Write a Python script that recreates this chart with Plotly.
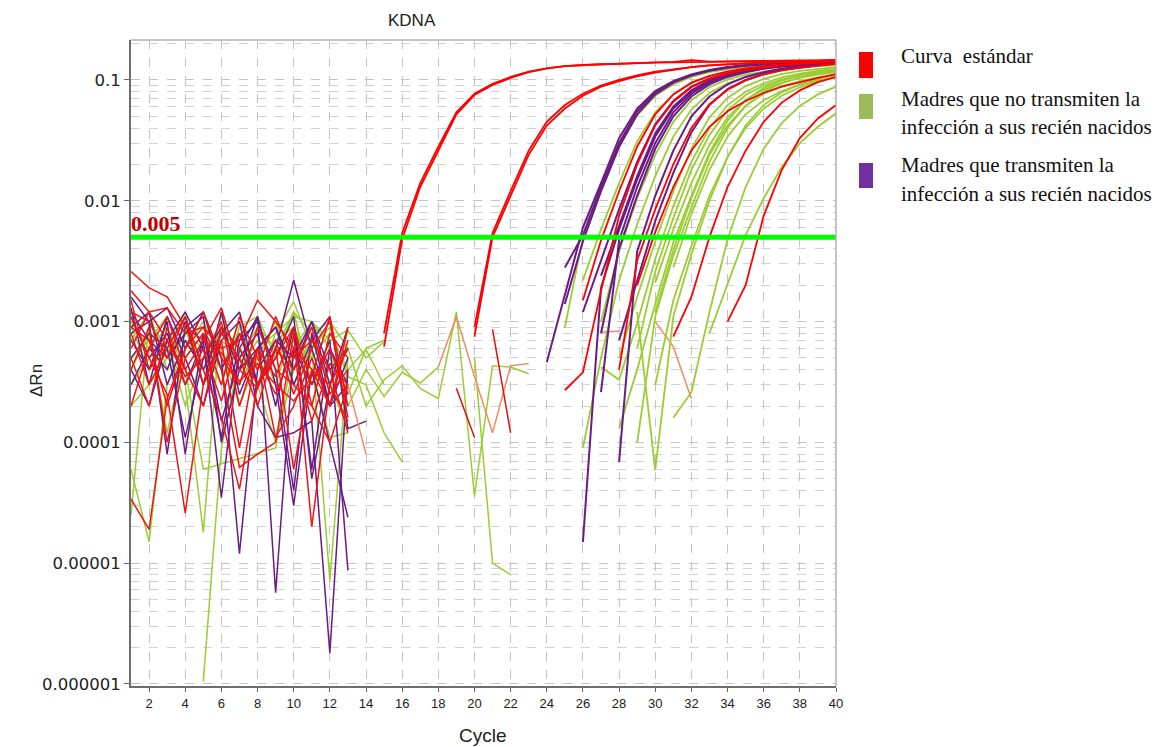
import plotly.graph_objects as go

_ = None

# ---------------- data ----------------
CYCLES = list(range(1, 41))
TITLE = "KDNA"
THRESHOLD = 0.005
X_TICKS = list(range(2, 41, 2))
Y_TICKS = [1e-6, 1e-5, 1e-4, 1e-3, 1e-2, 1e-1]
Y_TICK_TEXT = ["0.000001", "0.00001", "0.0001", "0.001", "0.01", "0.1"]
LEGEND_LABELS = [
    ["Curva  estándar"],
    ["Madres que no transmiten la", "infección a sus recién nacidos"],
    ["Madres que transmiten la", "infección a sus recién nacidos"],
]

# baseline noise, each list starts at cycle 1
STANDARD_NOISE = [
    [2.6e-3, 1.9e-3, 1.6e-3, 9.0e-4, 7.0e-4, 5.5e-4, 3.2e-4, 4.5e-4, 3.0e-4, 2.2e-4, 3.5e-4, 1.1e-3, 2.0e-4],
    [1.8e-3, 1.2e-3, 1.3e-3, 8.0e-4, 9.0e-4, 6.0e-4, 7.0e-4, 1.5e-3, 1.0e-3, 6.0e-4, 4.0e-4, 3.0e-4, 1.5e-4],
    [3.4e-5, 1.9e-5, 2.3e-4, 6.0e-4, 9.0e-4, 4.0e-4, 6.2e-5, 8.0e-5, 1.0e-4, 8.0e-4, 2.0e-5, 3.0e-4, 6.0e-4],
    [1.1e-3, 5.0e-4, 2.5e-4, 2.6e-5, 3.0e-4, 8.0e-4, 5.0e-4, 2.0e-4, 6.0e-4, 4.0e-4, 9.0e-4, 2.5e-4, 4.0e-4],
    [6.0e-4, 1.2e-3, 7.0e-4, 4.0e-4, 2.0e-4, 9.0e-4, 6.0e-4, 3.0e-4, 7.0e-4, 2.5e-4, 6.0e-4, 1.0e-3, 1.6e-4],
    [4.0e-4, 9.0e-4, 1.0e-4, 5.0e-4, 8.0e-4, 3.0e-4, 1.1e-3, 5.0e-4, 2.5e-4, 6.0e-4, 1.5e-4, 4.5e-4, 3.0e-4],
    [8.0e-4, 3.0e-4, 6.0e-4, 1.1e-3, 4.0e-4, 1.6e-4, 4.1e-5, 3.0e-4, 5.0e-4, 9.0e-4, 3.0e-4, 6.0e-4, 2.5e-4],
    [1.5e-3, 4.0e-4, 7.0e-4, 3.5e-4, 5.0e-4, 1.0e-3, 2.0e-4, 6.0e-4, 1.1e-4, 2.0e-4, 5.0e-4, 2.0e-4, 7.0e-4],
    [9.0e-4, 7.0e-4, 2.0e-4, 6.0e-4, 1.2e-3, 5.0e-4, 3.0e-4, 9.0e-4, 4.0e-4, 3.0e-4, 2.0e-4, 1.0e-4, 3.0e-4],
    [5.0e-4, 2.0e-4, 9.0e-4, 3.0e-4, 6.0e-4, 2.2e-4, 8.0e-4, 4.0e-4, 1.1e-3, 5.0e-4, 7.0e-4, 4.0e-4, 1.2e-4],
    [1.2e-3, 1.0e-3, 5.0e-4, 1.1e-3, 3.0e-4, 7.0e-4, 9.0e-5, 6.0e-4, 3.5e-4, 9.0e-4, 2.0e-4, 8.0e-4, 5.0e-4],
    [2.0e-4, 6.0e-4, 1.1e-3, 4.0e-4, 7.0e-4, 1.3e-3, 4.0e-4, 2.8e-4, 6.0e-4, 6.0e-5, 4.0e-4, 2.0e-4, 9.0e-4],
]
TRANSMIT_NOISE = [
    [1.6e-3, 1.0e-3, 1.3e-3, 6.0e-4, 1.2e-3, 4.0e-4, 8.0e-4, 3.0e-4, 6.0e-4, 2.2e-3, 6.0e-4, 2.0e-4, 3.0e-4],
    [1.1e-3, 5.0e-4, 8.0e-4, 3.0e-4, 7.0e-4, 3.5e-5, 6.0e-4, 1.1e-3, 3.0e-4, 3.0e-5, 4.0e-4, 1.0e-4, 2.4e-5],
    [8.0e-4, 1.0e-3, 8.0e-5, 9.0e-4, 1.2e-3, 5.0e-4, 1.2e-5, 4.0e-4, 7.0e-4, 5.0e-4, 1.0e-3, 4.0e-4, 6.0e-4],
    [5.0e-4, 8.0e-4, 6.0e-4, 1.1e-4, 5.0e-4, 9.0e-4, 4.0e-4, 1.1e-3, 5.7e-6, 6.0e-4, 3.0e-4, 7.0e-4, 8.7e-6],
    [1.3e-3, 3.0e-4, 1.1e-3, 5.0e-4, 2.0e-4, 7.0e-4, 1.0e-3, 2.0e-4, 1.1e-4, 1.2e-4, 1.5e-4, 1.8e-6, 4.0e-4],
    [3.0e-4, 6.0e-4, 4.0e-4, 1.0e-3, 3.0e-4, 1.2e-3, 2.5e-4, 6.0e-4, 9.0e-4, 3.0e-4, 7.0e-4, 1.1e-3, 1.3e-4, 1.5e-4],
    [7.0e-4, 4.0e-4, 1.0e-3, 8.0e-5, 8.0e-4, 1.5e-4, 5.0e-4, 8.0e-4, 2.0e-4, 9.0e-4, 6.0e-5, 6.0e-4, 3.0e-4],
    [9.0e-4, 1.2e-3, 3.0e-4, 7.0e-4, 4.0e-4, 8.0e-4, 1.2e-3, 3.0e-4, 5.0e-4, 1.1e-3, 5.0e-5, 3.0e-4, 9.0e-4],
    [4.0e-4, 2.0e-4, 7.0e-4, 1.2e-3, 6.0e-4, 1.1e-4, 7.0e-4, 1.0e-3, 4.0e-4, 4.0e-5, 8.0e-4, 2.0e-4, 5.0e-4],
    [1.2e-3, 7.0e-4, 5.0e-4, 8.0e-4, 1.1e-3, 1.0e-4, 4.0e-4, 6.0e-4, 9.0e-4, 4.0e-4, 1.0e-3, 3.0e-4, 6.0e-4],
]
NONTRANSMIT_NOISE = [
    [6.0e-5, 1.5e-5, 3.0e-4, 7.0e-4, 4.0e-4, 9.0e-4, 6.0e-4, 3.0e-4, 8.0e-4, 1.46e-3, 6.0e-4, 7.2e-6, 5.0e-4],
    [2.5e-5, 1.0e-3, 6.0e-4, 3.0e-4, 1.8e-5, 1.2e-3, 4.0e-4, 7.0e-4, 3.0e-4, 9.0e-4, 5.0e-4, 2.0e-4, 8.5e-4, 5.0e-4, 6.8e-4],
    [_, _, _, _, 1.05e-6, 9.0e-5, 5.0e-4, 3.0e-4, 1.0e-4, 4.0e-4, 7.0e-4, 3.0e-4, 1.3e-4],
    [1.0e-3, 6.0e-4, 9.0e-4, 4.0e-4, 6.0e-5, 6.6e-5, 7.3e-5, 8.1e-5, 9.0e-5, 6.0e-4, 1.0e-3, 6.0e-4, 2.0e-4, 4.0e-4, 2.4e-4, 3.8e-4, 3.1e-4, 4.2e-4],
    [7.0e-4, 1.2e-3, 4.0e-4, 8.0e-4, 6.0e-4, 3.0e-4, 9.0e-4, 1.1e-3, 5.0e-4, 1.2e-3, 8.0e-4, 1.0e-3, 6.0e-4, 2.0e-4, 3.3e-4, 4.3e-4, 2.8e-4, 2.3e-4, 1.2e-3, 3.6e-5, 4.3e-4, 4.2e-4, 3.7e-4],
    [4.0e-4, 8.0e-4, 1.2e-4, 6.0e-4, 1.0e-3, 5.0e-4, 3.0e-4, 6.0e-4, 8.0e-4, 1.1e-3, 1.0e-3, 7.0e-4, 8.5e-4],
    [3.0e-4, 5.0e-4, 7.0e-4, 2.0e-4, 5.0e-4, 8.0e-4, 6.0e-4, 4.0e-4, 7.0e-4, 9.0e-4, 4.0e-4, 1.1e-4, 1.2e-4, _, 1.2e-4, 6.9e-5],
    [9.0e-4, 4.0e-4, 6.0e-4, 1.2e-3, 3.0e-4, 7.0e-4, 5.0e-4, 9.0e-4, 6.0e-4, 1.2e-3, 3.0e-4, 5.0e-4, 2.5e-4, 6.0e-4, 7.0e-4],
    [5.0e-4, 7.0e-4, 1.1e-3, 5.0e-4, 8.0e-4, 4.0e-4, 1.0e-3, 3.0e-4, 5.0e-4, 7.0e-4, 5.0e-4, 8.0e-4, 4.0e-4, 5.9e-4, 3.0e-4],
    [2.0e-4, 3.0e-4, 5.0e-4, 9.0e-4, 3.0e-4, 6.0e-4, 2.0e-4, 5.0e-4, 1.0e-3, 3.0e-4, 6.0e-4, 9.0e-4, 3.5e-4, 3.0e-4, 1.2e-4],
]

# amplification segments: (first cycle, values)
STANDARD_CURVES = [
    (15, [6.2e-4, 4.8e-3, 1.3e-2, 2.6e-2, 5.2e-2, 7.5e-2, 9.1e-2, 0.104, 0.116, 0.125, 0.130, 0.133, 0.135,
          0.137, 0.139, 0.140, 0.141, 0.146, 0.142, 0.143, 0.143, 0.144, 0.144, 0.145, 0.145, 0.146]),
    (15, [8.0e-4, 5.4e-3, 1.4e-2, 2.8e-2, 5.4e-2, 7.7e-2, 9.3e-2, 0.106, 0.117, 0.125, 0.130, 0.133, 0.135,
          0.136, 0.138, 0.139, 0.140, 0.141, 0.141, 0.142, 0.143, 0.143, 0.144, 0.144, 0.145, 0.145]),
    (20, [7.5e-4, 5.0e-3, 1.1e-2, 2.4e-2, 4.2e-2, 5.8e-2, 7.4e-2, 8.8e-2, 9.8e-2, 0.107, 0.115, 0.122, 0.128,
          0.132, 0.135, 0.137, 0.139, 0.141, 0.142, 0.143, 0.145]),
    (20, [9.0e-4, 5.4e-3, 1.2e-2, 2.6e-2, 4.5e-2, 6.2e-2, 7.7e-2, 9.0e-2, 0.100, 0.109, 0.117, 0.123, 0.128,
          0.132, 0.135, 0.137, 0.139, 0.140, 0.141, 0.142, 0.143]),
    (26, [1.5e-3, 4.7e-3, 1.2e-2, 2.8e-2, 5.2e-2, 7.6e-2, 9.5e-2, 0.108, 0.118, 0.125, 0.130, 0.134, 0.137, 0.140, 0.143]),
    (25, [2.7e-4, 3.8e-4, 1.8e-3, 7.5e-3, 2.0e-2, 4.2e-2, 6.6e-2, 8.7e-2, 0.102, 0.113, 0.121, 0.127, 0.132, 0.136, 0.139, 0.142]),
    (28, [4.0e-4, 3.2e-3, 8.5e-3, 2.0e-2, 4.0e-2, 6.3e-2, 8.3e-2, 9.9e-2, 0.111, 0.120, 0.127, 0.132, 0.136]),
    (29, [2.0e-3, 5.5e-3, 1.3e-2, 2.6e-2, 4.1e-2, 5.5e-2, 6.7e-2, 7.8e-2, 8.8e-2, 9.6e-2, 0.104, 0.112]),
    (31, [7.5e-4, 1.6e-3, 5.0e-3, 1.3e-2, 2.6e-2, 4.5e-2, 6.5e-2, 8.2e-2, 9.6e-2, 0.106]),
    (34, [1.0e-3, 2.0e-3, 7.5e-3, 1.8e-2, 3.3e-2, 4.8e-2, 6.2e-2]),
]
STANDARD_FRAGMENTS = [
    (19, [2.8e-4, 1.1e-4]),
    (21, [8.6e-4, 1.2e-4]),
]
SALMON_FRAGMENTS = [
    (18, [4.2e-4, 1.1e-3, 3.5e-4, 1.2e-4, 4.3e-4, 4.5e-4]),
    (30, [1.0e-3, 6.2e-4, 2.3e-4]),
    (27, [8.2e-4, 8.3e-4]),
    (13, [3.0e-4, 8.0e-5]),
]
TRANSMIT_CURVES = [
    (24, [4.6e-4, 1.7e-3, 6.0e-3, 1.4e-2, 3.3e-2, 5.8e-2, 8.1e-2, 9.8e-2, 0.111, 0.121, 0.128, 0.133, 0.137, 0.140, 0.142, 0.144, 0.146]),
    (25, [2.8e-3, 5.2e-3, 1.3e-2, 3.0e-2, 5.5e-2, 7.9e-2, 9.7e-2, 0.110, 0.120, 0.127, 0.132, 0.136, 0.139, 0.141, 0.143, 0.145]),
    (25, [1.4e-3, 4.6e-3, 1.2e-2, 2.8e-2, 5.2e-2, 7.6e-2, 9.5e-2, 0.109, 0.119, 0.126, 0.131, 0.135, 0.138, 0.140, 0.142, 0.144]),
    (26, [1.2e-3, 3.2e-3, 8.5e-3, 2.1e-2, 4.3e-2, 6.7e-2, 8.8e-2, 0.103, 0.114, 0.122, 0.128, 0.133, 0.136, 0.139, 0.141]),
    (27, [2.6e-4, 4.7e-3, 1.3e-2, 3.0e-2, 5.4e-2, 7.7e-2, 9.5e-2, 0.108, 0.118, 0.125, 0.130, 0.134, 0.137, 0.140]),
    (26, [1.5e-5, 1.9e-3, 5.8e-3, 1.5e-2, 3.4e-2, 5.8e-2, 8.0e-2, 9.7e-2, 0.110, 0.119, 0.126, 0.131, 0.135, 0.138, 0.140]),
    (27, [8.0e-4, 4.0e-3, 1.1e-2, 2.7e-2, 5.0e-2, 7.3e-2, 9.2e-2, 0.106, 0.116, 0.124, 0.129, 0.133, 0.136, 0.139]),
    (28, [6.9e-5, 3.8e-3, 1.1e-2, 2.6e-2, 5.0e-2, 7.3e-2, 9.2e-2, 0.106, 0.116, 0.124, 0.130, 0.134, 0.137]),
    (28, [7.0e-4, 2.2e-3, 6.8e-3, 1.7e-2, 3.7e-2, 6.2e-2, 8.4e-2, 0.100, 0.112, 0.121, 0.127, 0.132, 0.136]),
    (27, [2.4e-3, 6.2e-3, 1.6e-2, 3.6e-2, 6.0e-2, 8.2e-2, 9.9e-2, 0.111, 0.120, 0.127, 0.132, 0.136, 0.139, 0.142]),
]
NONTRANSMIT_CURVES = [
    (25, [8.9e-4, 5.0e-3, 1.2e-2, 2.8e-2, 5.1e-2, 7.4e-2, 9.2e-2, 0.106, 0.116, 0.123, 0.128, 0.132, 0.135, 0.137, 0.139, 0.141]),
    (26, [2.2e-3, 5.8e-3, 1.4e-2, 3.1e-2, 5.4e-2, 7.6e-2, 9.4e-2, 0.107, 0.116, 0.123, 0.128, 0.132, 0.135, 0.137, 0.139]),
    (27, [1.0e-3, 3.8e-3, 1.05e-2, 2.4e-2, 4.5e-2, 6.8e-2, 8.7e-2, 0.101, 0.111, 0.118, 0.124, 0.128, 0.131, 0.134]),
    (26, [9.0e-5, 5.0e-4, 2.2e-3, 6.4e-3, 1.6e-2, 3.4e-2, 5.7e-2, 7.8e-2, 9.4e-2, 0.106, 0.115, 0.121, 0.126, 0.130, 0.133]),
    (27, [4.2e-4, 3.3e-4, 9.7e-4, 3.3e-3, 9.0e-3, 2.1e-2, 4.0e-2, 6.2e-2, 8.0e-2, 9.4e-2, 0.105, 0.113, 0.119, 0.124]),
    (29, [1.2e-3, 5.9e-5, 1.1e-3, 3.6e-3, 1.0e-2, 2.3e-2, 4.2e-2, 6.2e-2, 7.9e-2, 9.2e-2, 0.102, 0.110]),
    (28, [1.3e-4, 4.0e-4, 1.4e-3, 4.5e-3, 1.1e-2, 2.5e-2, 4.6e-2, 6.8e-2, 8.6e-2, 9.9e-2, 0.109, 0.116, 0.121]),
    (29, [9.9e-5, 1.1e-3, 3.5e-3, 8.8e-3, 2.1e-2, 4.0e-2, 6.1e-2, 8.0e-2, 9.4e-2, 0.105, 0.113, 0.119]),
    (29, [6.0e-4, 2.6e-3, 7.2e-3, 1.8e-2, 3.5e-2, 5.6e-2, 7.5e-2, 9.0e-2, 0.101, 0.109, 0.115, 0.120]),
    (30, [2.1e-3, 5.8e-3, 1.4e-2, 2.9e-2, 4.9e-2, 6.8e-2, 8.3e-2, 9.5e-2, 0.104, 0.111, 0.116]),
    (30, [1.2e-3, 3.9e-3, 1.05e-2, 2.4e-2, 4.2e-2, 6.1e-2, 7.7e-2, 8.9e-2, 9.8e-2, 0.105, 0.110]),
    (31, [2.8e-3, 7.8e-3, 1.8e-2, 3.4e-2, 5.2e-2, 6.8e-2, 8.1e-2, 9.1e-2, 9.9e-2, 0.105]),
    (31, [1.6e-4, 2.6e-4, 1.2e-3, 4.8e-3, 1.3e-2, 2.7e-2, 4.4e-2, 6.1e-2, 7.6e-2, 8.8e-2]),
    (33, [8.0e-4, 2.0e-3, 5.2e-3, 1.05e-2, 1.9e-2, 3.0e-2, 4.1e-2, 5.3e-2]),
    (28, [5.0e-4, 1.6e-3, 4.6e-3, 1.2e-2, 2.7e-2, 4.9e-2, 7.1e-2, 8.9e-2, 0.102, 0.112, 0.119, 0.124, 0.128]),
    (30, [3.0e-4, 1.5e-3, 4.2e-3, 1.1e-2, 2.3e-2, 4.0e-2, 5.8e-2, 7.4e-2, 8.7e-2, 9.7e-2, 0.105]),
]
NONTRANSMIT_FRAGMENTS = [
    (20, [5.0e-4, 1.0e-5, 8.0e-6]),
]

# ---------------- styling ----------------
RED = "#ff0000"
RED_NOISE = "#f01414"
SALMON = "#f08a66"
PURPLE = "#6c1a84"
GREEN = "#9acd32"
LEG_RED, LEG_GREEN, LEG_PURPLE = "#ff0000", "#9bbb59", "#7030a0"

# page body has an 8px margin, so figure coordinates = screen coordinates - 8
OFF = 8
W, H = 1165 - OFF, 747 - OFF
L, R, T, B = 131 - OFF, 836 - OFF, 40 - OFF, 686 - OFF


def px(x):
    return (x - OFF - L) / (R - L)


def py(y):
    return (B - (y - OFF)) / (B - T)


fig = go.Figure()


def add(start, values, color, width):
    xs = CYCLES[start - 1:start - 1 + len(values)]
    fig.add_trace(go.Scatter(x=xs, y=values, mode="lines", connectgaps=False,
                             line=dict(color=color, width=width),
                             hoverinfo="skip", showlegend=False))


for v in NONTRANSMIT_NOISE:
    add(1, v, GREEN, 1.5)
for v in TRANSMIT_NOISE:
    add(1, v, PURPLE, 1.5)
for v in STANDARD_NOISE:
    add(1, v, RED_NOISE, 1.5)
for s, v in NONTRANSMIT_FRAGMENTS:
    add(s, v, GREEN, 1.5)
for s, v in SALMON_FRAGMENTS:
    add(s, v, SALMON, 1.5)
for s, v in STANDARD_FRAGMENTS:
    add(s, v, "#e01010", 1.5)
for s, v in NONTRANSMIT_CURVES:
    add(s, v, GREEN, 1.8)
for s, v in TRANSMIT_CURVES:
    add(s, v, PURPLE, 2)
for s, v in STANDARD_CURVES:
    add(s, v, RED, 1.8)

# threshold line
fig.add_trace(go.Scatter(x=[CYCLES[0], CYCLES[-1]], y=[THRESHOLD, THRESHOLD], mode="lines",
                         line=dict(color="#00ff00", width=5), hoverinfo="skip",
                         showlegend=False, cliponaxis=False))

minor_vals = [m * 10.0 ** d for d in range(-6, 0) for m in range(2, 10)] + [0.2]
grid_col = "#c4c4c4"

fig.update_layout(
    width=W, height=H,
    margin=dict(l=L, r=W - R, t=T, b=H - B),
    paper_bgcolor="white", plot_bgcolor="white",
    showlegend=False,
    xaxis=dict(range=[1, 40], tickmode="array", tickvals=X_TICKS, ticks="outside", ticklen=4,
               tickcolor="#666", showgrid=True, gridcolor=grid_col, griddash="dash", gridwidth=1,
               showline=True, linecolor="#6e6e6e", linewidth=2, zeroline=False,
               tickfont=dict(family="Liberation Sans, Arial", size=13, color="#222")),
    yaxis=dict(type="log", range=[-6.017, -0.669], tickmode="array", tickvals=Y_TICKS,
               ticktext=Y_TICK_TEXT, ticks="outside", ticklen=5, tickcolor="#666",
               showgrid=True, gridcolor=grid_col, griddash="dash", gridwidth=1,
               minor=dict(tickmode="array", tickvals=minor_vals, showgrid=True,
                          gridcolor="#d2d2d2", griddash="dash", ticks=""),
               showline=True, linecolor="#6e6e6e", linewidth=2, zeroline=False,
               tickfont=dict(family="DejaVu Sans", size=16.5, color="#222")),
)

# top / right frame
fig.add_shape(type="line", xref="paper", yref="paper", x0=0, x1=1, y0=1, y1=1,
              line=dict(color="#b0b0b0", width=1.5))
fig.add_shape(type="line", xref="paper", yref="paper", x0=1, x1=1, y0=0, y1=1,
              line=dict(color="#b0b0b0", width=1.5))

sans = "Liberation Sans, Arial"
serif = "Liberation Serif, Times New Roman"
fig.add_annotation(text=TITLE, xref="paper", yref="paper", x=px(412), y=py(20), showarrow=False,
                   xanchor="center", yanchor="middle", font=dict(family=sans, size=17, color="#222"))
fig.add_annotation(text="Cycle", xref="paper", yref="paper", x=px(483), y=py(735), showarrow=False,
                   xanchor="center", yanchor="middle", font=dict(family=sans, size=19, color="#222"))
fig.add_annotation(text="ΔRn", xref="paper", yref="paper", x=px(36), y=py(381), showarrow=False,
                   textangle=-90, xanchor="center", yanchor="middle",
                   font=dict(family=sans, size=17, color="#222"))
fig.add_annotation(text="<b>" + str(THRESHOLD) + "</b>", xref="paper", yref="paper", x=px(129), y=py(224),
                   showarrow=False, xanchor="left", yanchor="middle",
                   font=dict(family=serif, size=22, color="#c00000"))

# legend (drawn manually)
rects = [(52, 78, LEG_RED), (94, 119, LEG_GREEN), (163, 188, LEG_PURPLE)]
for y0, y1, c in rects:
    fig.add_shape(type="rect", xref="paper", yref="paper", x0=px(859), x1=px(873),
                  y0=py(y1), y1=py(y0), fillcolor=c, line=dict(width=0))
text_rows = [(56, LEGEND_LABELS[0][0]), (99, LEGEND_LABELS[1][0]), (127, LEGEND_LABELS[1][1]),
             (165, LEGEND_LABELS[2][0]), (194, LEGEND_LABELS[2][1])]
for yc, t in text_rows:
    fig.add_annotation(text=t, xref="paper", yref="paper", x=px(899), y=py(yc), showarrow=False,
                       xanchor="left", yanchor="middle", font=dict(family=serif, size=21, color="#111"))

fig.write_html("out.html")
